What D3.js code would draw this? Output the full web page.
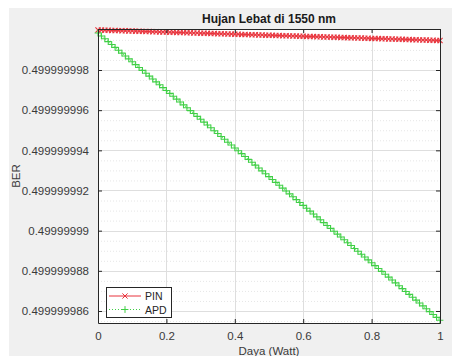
<!DOCTYPE html>
<html>
<head>
<meta charset="utf-8">
<script src="https://cdn.jsdelivr.net/npm/d3@7"></script>
<style>
  body { margin: 0; background: #fff; }
  text { font-family: "Liberation Sans", Arial, sans-serif; }
</style>
</head>
<body>
<div id="chart"></div>
<script>
// daya (Watt)
const daya = [0, 0.01, 0.02, 0.03, 0.04, 0.05, 0.06, 0.07, 0.08, 0.09,
  0.1, 0.11, 0.12, 0.13, 0.14, 0.15, 0.16, 0.17, 0.18, 0.19,
  0.2, 0.21, 0.22, 0.23, 0.24, 0.25, 0.26, 0.27, 0.28, 0.29,
  0.3, 0.31, 0.32, 0.33, 0.34, 0.35, 0.36, 0.37, 0.38, 0.39,
  0.4, 0.41, 0.42, 0.43, 0.44, 0.45, 0.46, 0.47, 0.48, 0.49,
  0.5, 0.51, 0.52, 0.53, 0.54, 0.55, 0.56, 0.57, 0.58, 0.59,
  0.6, 0.61, 0.62, 0.63, 0.64, 0.65, 0.66, 0.67, 0.68, 0.69,
  0.7, 0.71, 0.72, 0.73, 0.74, 0.75, 0.76, 0.77, 0.78, 0.79,
  0.8, 0.81, 0.82, 0.83, 0.84, 0.85, 0.86, 0.87, 0.88, 0.89,
  0.9, 0.91, 0.92, 0.93, 0.94, 0.95, 0.96, 0.97, 0.98, 0.99, 1];

const berPin = [0.499999999992, 0.499999999987, 0.499999999982, 0.499999999976, 0.499999999971,
  0.499999999966, 0.499999999961, 0.499999999955, 0.499999999950, 0.499999999945,
  0.499999999940, 0.499999999935, 0.499999999929, 0.499999999924, 0.499999999919,
  0.499999999914, 0.499999999908, 0.499999999903, 0.499999999898, 0.499999999893,
  0.499999999888, 0.499999999882, 0.499999999877, 0.499999999872, 0.499999999867,
  0.499999999861, 0.499999999856, 0.499999999851, 0.499999999846, 0.499999999841,
  0.499999999835, 0.499999999830, 0.499999999825, 0.499999999820, 0.499999999815,
  0.499999999809, 0.499999999804, 0.499999999799, 0.499999999794, 0.499999999788,
  0.499999999783, 0.499999999778, 0.499999999773, 0.499999999768, 0.499999999762,
  0.499999999757, 0.499999999752, 0.499999999747, 0.499999999741, 0.499999999736,
  0.499999999731, 0.499999999726, 0.499999999721, 0.499999999715, 0.499999999710,
  0.499999999705, 0.499999999700, 0.499999999694, 0.499999999689, 0.499999999684,
  0.499999999679, 0.499999999674, 0.499999999668, 0.499999999663, 0.499999999658,
  0.499999999653, 0.499999999647, 0.499999999642, 0.499999999637, 0.499999999632,
  0.499999999627, 0.499999999621, 0.499999999616, 0.499999999611, 0.499999999606,
  0.499999999600, 0.499999999595, 0.499999999590, 0.499999999585, 0.499999999580,
  0.499999999574, 0.499999999569, 0.499999999564, 0.499999999559, 0.499999999554,
  0.499999999548, 0.499999999543, 0.499999999538, 0.499999999533, 0.499999999527,
  0.499999999522, 0.499999999517, 0.499999999512, 0.499999999507, 0.499999999501,
  0.499999999496, 0.499999999491, 0.499999999486, 0.499999999480, 0.499999999475,
  0.499999999470];

const berApd = [0.499999999840, 0.499999999697, 0.499999999554, 0.499999999411, 0.499999999268,
  0.499999999125, 0.499999998982, 0.499999998839, 0.499999998696, 0.499999998553,
  0.499999998410, 0.499999998267, 0.499999998124, 0.499999997981, 0.499999997838,
  0.499999997695, 0.499999997552, 0.499999997409, 0.499999997266, 0.499999997123,
  0.499999996980, 0.499999996837, 0.499999996694, 0.499999996551, 0.499999996408,
  0.499999996265, 0.499999996122, 0.499999995979, 0.499999995836, 0.499999995693,
  0.499999995550, 0.499999995407, 0.499999995264, 0.499999995121, 0.499999994978,
  0.499999994835, 0.499999994692, 0.499999994549, 0.499999994406, 0.499999994263,
  0.499999994120, 0.499999993977, 0.499999993834, 0.499999993691, 0.499999993548,
  0.499999993405, 0.499999993262, 0.499999993119, 0.499999992976, 0.499999992833,
  0.499999992690, 0.499999992547, 0.499999992404, 0.499999992261, 0.499999992118,
  0.499999991975, 0.499999991832, 0.499999991689, 0.499999991546, 0.499999991403,
  0.499999991260, 0.499999991117, 0.499999990974, 0.499999990831, 0.499999990688,
  0.499999990545, 0.499999990402, 0.499999990259, 0.499999990116, 0.499999989973,
  0.499999989830, 0.499999989687, 0.499999989544, 0.499999989401, 0.499999989258,
  0.499999989115, 0.499999988972, 0.499999988829, 0.499999988686, 0.499999988543,
  0.499999988400, 0.499999988257, 0.499999988114, 0.499999987971, 0.499999987828,
  0.499999987685, 0.499999987542, 0.499999987399, 0.499999987256, 0.499999987113,
  0.499999986970, 0.499999986827, 0.499999986684, 0.499999986541, 0.499999986398,
  0.499999986255, 0.499999986112, 0.499999985969, 0.499999985826, 0.499999985683,
  0.499999985540];

const xTicks = [0, 0.2, 0.4, 0.6, 0.8, 1];
const xTickLabels = ["0", "0.2", "0.4", "0.6", "0.8", "1"];
const yTicks = [0.499999986, 0.499999988, 0.49999999, 0.499999992, 0.499999994, 0.499999996, 0.499999998];
const yTickLabels = ["0.499999986", "0.499999988", "0.49999999", "0.499999992", "0.499999994", "0.499999996", "0.499999998"];
const seriesNames = ["PIN", "APD"];

const W = 452, H = 356;
const m = {left: 98, right: 12, top: 29, bottom: 33};
const w = W - m.left - m.right, h = H - m.top - m.bottom;

const svg = d3.select("#chart").append("svg")
  .attr("width", W).attr("height", H);

// figure background
svg.append("rect").attr("x", 9).attr("y", 8).attr("width", W - 9).attr("height", H - 8).attr("fill", "#f0f0f0");

const x = d3.scaleLinear().domain([0, 1]).range([0, w]);
const y = d3.scaleLinear().domain([0.499999985402, 0.500000000042]).range([h, 0]);

const g = svg.append("g").attr("transform", `translate(${m.left},${m.top})`);
g.append("rect").attr("width", w).attr("height", h).attr("fill", "#fff");

// minor grid (y)
const minor = [];
yTicks.forEach(t => { for (let k = 1; k < 4; k++) minor.push(t + k * 0.5e-9); });
minor.push(yTicks[0] - 0.5e-9);
g.append("g").selectAll("line").data(minor.filter(v => v < y.domain()[1] && v > y.domain()[0])).enter()
  .append("line")
  .attr("x1", 0).attr("x2", w)
  .attr("y1", d => y(d) + 0.5).attr("y2", d => y(d) + 0.5)
  .attr("stroke", "#e6e6e6").attr("stroke-dasharray", "1,2");

// major grid
g.append("g").selectAll("line").data(yTicks).enter().append("line")
  .attr("x1", 0).attr("x2", w)
  .attr("y1", d => Math.round(y(d)) + 0.5).attr("y2", d => Math.round(y(d)) + 0.5)
  .attr("stroke", "#dedede");
g.append("g").selectAll("line").data(xTicks).enter().append("line")
  .attr("y1", 0).attr("y2", h)
  .attr("x1", d => Math.round(x(d)) + 0.5).attr("x2", d => Math.round(x(d)) + 0.5)
  .attr("stroke", "#dedede");

// lines
const red = "#e8333c", green = "#3fcf45";
const line = d3.line().x((d, i) => x(daya[i])).y(d => y(d));
g.append("path").datum(berPin).attr("d", line)
  .attr("fill", "none").attr("stroke", red).attr("stroke-width", 1);
g.append("path").datum(berApd).attr("d", line)
  .attr("fill", "none").attr("stroke", green).attr("stroke-width", 1).attr("stroke-dasharray", "1,2");

// markers
const s = 2.6;
g.append("g").selectAll("path").data(berPin).enter().append("path")
  .attr("d", (d, i) => {
    const px = x(daya[i]), py = y(d);
    return `M${px - s},${py - s}L${px + s},${py + s}M${px - s},${py + s}L${px + s},${py - s}`;
  })
  .attr("stroke", red).attr("stroke-width", 1.1).attr("fill", "none");
g.append("g").selectAll("path").data(berApd).enter().append("path")
  .attr("d", (d, i) => {
    const px = x(daya[i]), py = y(d);
    return `M${px - 3.4},${py}L${px + 3.4},${py}M${px},${py - 3.4}L${px},${py + 3.4}`;
  })
  .attr("stroke", green).attr("stroke-width", 1.1).attr("fill", "none");

// axes box
const axisColor = "#262626";
const xAxis = d3.axisBottom(x).tickValues(xTicks).tickFormat((d, i) => xTickLabels[i]).tickSizeInner(-4).tickSizeOuter(0).tickPadding(9);
const yAxis = d3.axisLeft(y).tickValues(yTicks).tickFormat((d, i) => yTickLabels[i]).tickSizeInner(-4).tickSizeOuter(0).tickPadding(9);
const gx = g.append("g").attr("transform", `translate(0,${h})`).call(xAxis);
const gy = g.append("g").call(yAxis);
g.append("g").attr("transform", `translate(${w},0)`)
  .call(d3.axisRight(y).tickValues(yTicks).tickFormat("").tickSizeInner(-4).tickSizeOuter(0));
g.append("g")
  .call(d3.axisTop(x).tickValues(xTicks).tickFormat("").tickSizeInner(-4).tickSizeOuter(0));
g.selectAll(".domain").attr("stroke", axisColor);
g.selectAll(".tick line").attr("stroke", axisColor);
[gx, gy].forEach(a => a.selectAll("text").attr("fill", "#3a3a3a").style("font-size", "11.5px"));

// title & labels
svg.append("text").attr("x", m.left + w / 2).attr("y", 23).attr("text-anchor", "middle")
  .style("font-size", "12px").style("font-weight", "bold").attr("fill", "#1a1a1a")
  .text("Hujan Lebat di 1550 nm");
svg.append("text").attr("x", m.left + w / 2).attr("y", 355).attr("text-anchor", "middle")
  .style("font-size", "11.5px").attr("fill", "#3a3a3a").text("Daya (Watt)");
svg.append("text").attr("transform", `translate(20,${m.top + h / 2}) rotate(-90)`)
  .attr("text-anchor", "middle").style("font-size", "11.5px").attr("fill", "#3a3a3a").text("BER");

// legend
const lg = svg.append("g").attr("transform", "translate(106,287)");
lg.append("rect").attr("x", 0.5).attr("y", 0.5).attr("width", 65).attr("height", 30)
  .attr("fill", "#fff").attr("stroke", "#262626");
const legendColors = [red, green];
seriesNames.forEach((name, i) => {
  const ly = 9 + i * 13.5;
  lg.append("line").attr("x1", 3).attr("x2", 35).attr("y1", ly).attr("y2", ly)
    .attr("stroke", legendColors[i]).attr("stroke-dasharray", i === 1 ? "1,2" : null);
  if (i === 0) {
    lg.append("path").attr("d", `M${19 - s},${ly - s}L${19 + s},${ly + s}M${19 - s},${ly + s}L${19 + s},${ly - s}`)
      .attr("stroke", legendColors[i]);
  } else {
    lg.append("path").attr("d", `M${15.6},${ly}L${22.4},${ly}M19,${ly - 3.4}L19,${ly + 3.4}`)
      .attr("stroke", legendColors[i]);
  }
  lg.append("text").attr("x", 39).attr("y", ly + 4).style("font-size", "10.5px").attr("fill", "#262626").text(name);
});
</script>
</body>
</html>
